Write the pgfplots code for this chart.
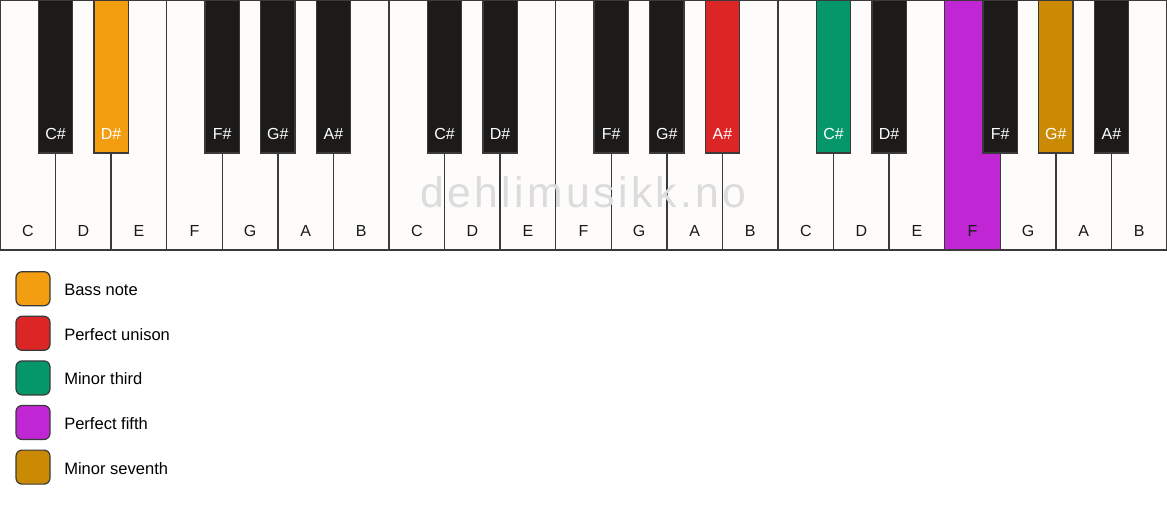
\documentclass[border=0pt]{standalone}
\usepackage{pgfplots}
\pgfplotsset{compat=1.18}
\usepackage{fontspec}
\setmainfont{Liberation Sans}
\newfontfamily\wmfont[LetterSpace=8]{Liberation Sans}
\definecolor{keywhite}{HTML}{FDFCFA}
\definecolor{keyblack}{HTML}{1C1B1A}
\definecolor{keyline}{HTML}{3A3A3A}
\definecolor{cbass}{HTML}{F39E10}
\definecolor{cunison}{HTML}{DC2626}
\definecolor{cthird}{HTML}{059669}
\definecolor{cfifth}{HTML}{C026D3}
\definecolor{cseventh}{HTML}{CA8A04}
\definecolor{wm}{HTML}{DCDCDC}
\begin{document}
\begin{tikzpicture}
\begin{axis}[scale only axis, width=875.25pt, height=379.5pt,
  xmin=0, xmax=1167, ymin=0, ymax=506, y dir=reverse, hide axis, clip=false]
% white keys
\addplot[ybar, bar width=55.571, bar shift=0pt, fill=keywhite, draw=keyline, line width=1pt] coordinates {
(27.79,250)(83.36,250)(138.93,250)(194.50,250)(250.07,250)(305.64,250)(361.21,250)
(416.79,250)(472.36,250)(527.93,250)(583.50,250)(639.07,250)(694.64,250)(750.21,250)
(805.79,250)(861.36,250)(916.93,250)(972.50,250)(1028.07,250)(1083.64,250)(1139.21,250)};
% highlighted white key (F, perfect fifth)
\addplot[ybar, bar width=55.571, bar shift=0pt, fill=cfifth, draw=keyline, line width=1pt] coordinates {(972.50,250)};
\node[font=\wmfont\fontsize{32pt}{32pt}\selectfont, text=wm, anchor=base, inner sep=0pt] at (axis cs:583.5,207.7) {dehlimusikk.no};
% black keys
\addplot[ybar, bar width=34.5, bar shift=0pt, fill=keyblack, draw=keyline, line width=1pt] coordinates {
(55.57,153)(222.29,153)(277.86,153)(333.43,153)
(444.57,153)(500.14,153)(611.29,153)(666.86,153)
(889.14,153)(1000.29,153)(1111.43,153)};
\addplot[ybar, bar width=34.5, bar shift=0pt, fill=cbass, draw=keyline, line width=1pt] coordinates {(111.14,153)};
\addplot[ybar, bar width=34.5, bar shift=0pt, fill=cunison, draw=keyline, line width=1pt] coordinates {(722.43,153)};
\addplot[ybar, bar width=34.5, bar shift=0pt, fill=cthird, draw=keyline, line width=1pt] coordinates {(833.57,153)};
\addplot[ybar, bar width=34.5, bar shift=0pt, fill=cseventh, draw=keyline, line width=1pt] coordinates {(1055.86,153)};
% white key labels
\foreach \x/\n in {27.79/C,83.36/D,138.93/E,194.50/F,250.07/G,305.64/A,361.21/B,
416.79/C,472.36/D,527.93/E,583.50/F,639.07/G,694.64/A,750.21/B,
805.79/C,861.36/D,916.93/E,972.50/F,1028.07/G,1083.64/A,1139.21/B}{
  \edef\tmp{\noexpand\node[font=\noexpand\fontsize{12pt}{14pt}\noexpand\selectfont, text=black!90, inner sep=0pt] at (axis cs:\x,230.5) {\n};}\tmp
}
% black key labels
\foreach \x/\n in {55.57/C,111.14/D,222.29/F,277.86/G,333.43/A,
444.57/C,500.14/D,611.29/F,666.86/G,722.43/A,
833.57/C,889.14/D,1000.29/F,1055.86/G,1111.43/A}{
  \edef\tmp{\noexpand\node[font=\noexpand\fontsize{12pt}{14pt}\noexpand\selectfont, text=white, inner sep=0pt] at (axis cs:\x,133.5) {\n\noexpand\#};}\tmp
}
% legend boxes
\addplot[fill=cbass, draw=keyline, line width=0.9pt, rounded corners=4.5pt] coordinates {(16,271.7)(50,271.7)(50,305.7)(16,305.7)} -- cycle;
\addplot[fill=cunison, draw=keyline, line width=0.9pt, rounded corners=4.5pt] coordinates {(16,316.3)(50,316.3)(50,350.3)(16,350.3)} -- cycle;
\addplot[fill=cthird, draw=keyline, line width=0.9pt, rounded corners=4.5pt] coordinates {(16,360.9)(50,360.9)(50,394.9)(16,394.9)} -- cycle;
\addplot[fill=cfifth, draw=keyline, line width=0.9pt, rounded corners=4.5pt] coordinates {(16,405.5)(50,405.5)(50,439.5)(16,439.5)} -- cycle;
\addplot[fill=cseventh, draw=keyline, line width=0.9pt, rounded corners=4.5pt] coordinates {(16,450.1)(50,450.1)(50,484.1)(16,484.1)} -- cycle;
\node[font=\fontsize{12.4pt}{14pt}\selectfont, anchor=west, inner sep=0pt] at (axis cs:64,289.7) {Bass note};
\node[font=\fontsize{12.4pt}{14pt}\selectfont, anchor=west, inner sep=0pt] at (axis cs:64,334.3) {Perfect unison};
\node[font=\fontsize{12.4pt}{14pt}\selectfont, anchor=west, inner sep=0pt] at (axis cs:64,378.9) {Minor third};
\node[font=\fontsize{12.4pt}{14pt}\selectfont, anchor=west, inner sep=0pt] at (axis cs:64,423.5) {Perfect fifth};
\node[font=\fontsize{12.4pt}{14pt}\selectfont, anchor=west, inner sep=0pt] at (axis cs:64,468.1) {Minor seventh};
\end{axis}
\pgfresetboundingbox
\useasboundingbox (current axis.south west) rectangle (current axis.north east);
\end{tikzpicture}
\end{document}
